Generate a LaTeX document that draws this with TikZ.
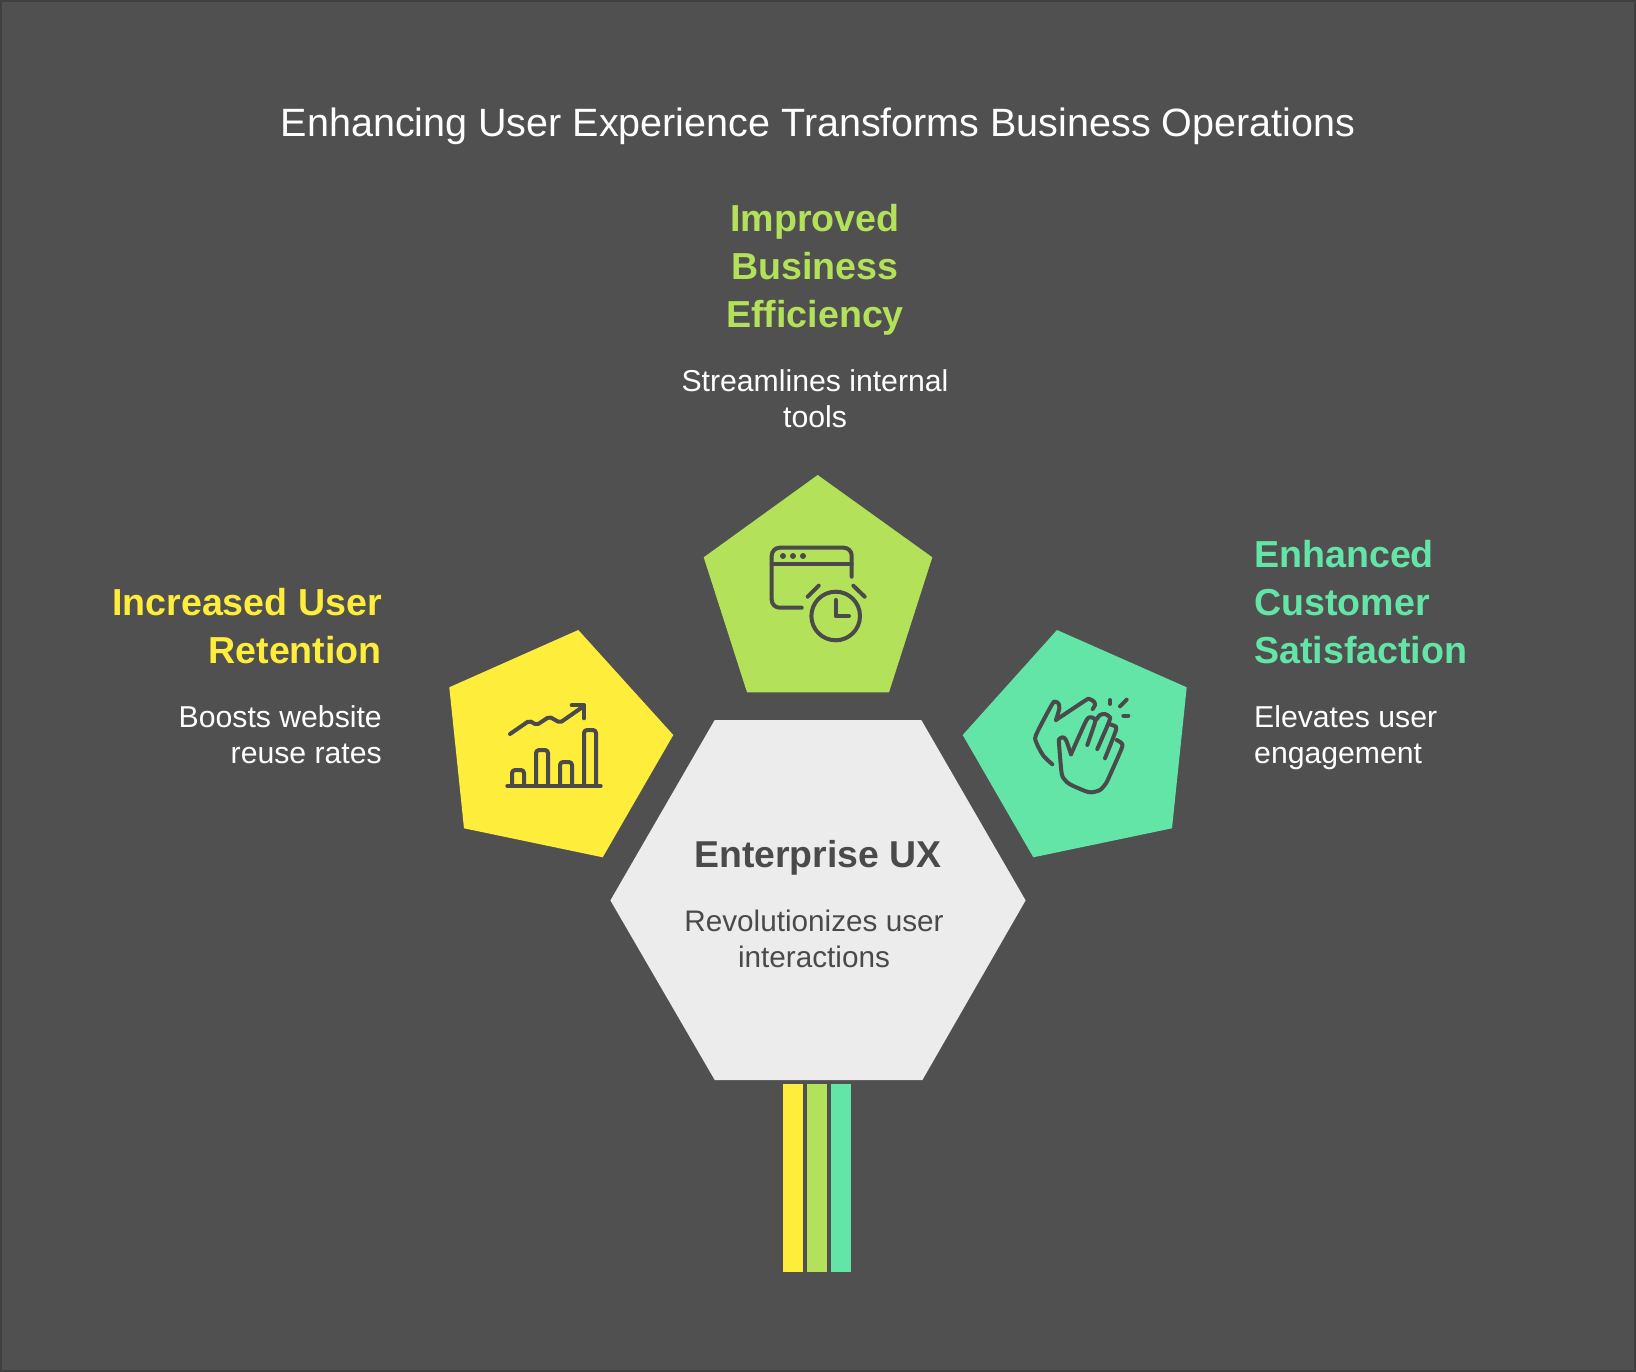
\documentclass[tikz,border=0pt]{standalone}
\usepackage{fontspec}
\setmainfont{Liberation Sans}
\definecolor{bgdark}{HTML}{505050}
\definecolor{hexgray}{HTML}{ECECEC}
\definecolor{ux}{HTML}{4A4A4A}
\definecolor{retain}{HTML}{FFED3B}
\definecolor{effic}{HTML}{B3E15A}
\definecolor{satis}{HTML}{64E5A8}
\tikzstyle{icon}=[ux,line width=4pt,line cap=round,line join=round]
\tikzstyle{handline}=[icon,smooth,tension=.45]
\tikzstyle{heading}=[font=\fontsize{37.6}{48}\selectfont\bfseries,inner sep=0pt]
\tikzstyle{descr}=[font=\fontsize{30.2}{36}\selectfont,inner sep=0pt,white]
\begin{document}
\begin{tikzpicture}[x=1pt,y=-1pt]
    \useasboundingbox (0,0) rectangle (1636,1372);
    \draw[fill=bgdark,draw=black!75,line width=2pt] (1,1) rectangle (1635,1371);
    \node[font=\fontsize{39.5}{46}\selectfont,white,inner sep=0pt] (title) at (818,126)
    {Enhancing User Experience Transforms Business Operations};
    \fill[retain] (578.3,630)--(449.3,687.3)--(464,828.3)--(602.7,857.3)--(673.3,735)--cycle;
    \fill[effic] (817.7,475)--(932.3,557.3)--(889,692.3)--(747,692.3)--(703.7,557.3)--cycle;
    \fill[satis] (1057,630)--(1186.7,687.3)--(1172,828.3)--(1033.3,857.3)--(962.7,735)--cycle;
    \fill[hexgray] (714.7,720)--(921.3,720)--(1025.6,900.4)--(922.4,1080)--(714.7,1080)--(610.4,900.4)--cycle;
    \fill[retain] (783,1084) rectangle (803,1272);
    \fill[effic] (807,1084) rectangle (827,1272);
    \fill[satis] (831,1084) rectangle (851,1272);
    \draw[icon] (507.3,786)--(600.7,786);
    \draw[icon,rounded corners=3pt] (512,786)--(512,770)--(524,770)--(524,786);
    \draw[icon,rounded corners=3pt] (536,786)--(536,750)--(548,750)--(548,786);
    \draw[icon,rounded corners=3pt] (560,786)--(560,762)--(572,762)--(572,786);
    \draw[icon,rounded corners=3pt] (584,786)--(584,730)--(596,730)--(596,786);
    \draw[icon,rounded corners=2pt] (510,734)--(529.3,720.7)--(536.7,725)--(549.3,716.7)--(560,722.7)--(584,706);
    \draw[icon] (571.7,705.3)--(584,705.3)--(584,718.3);
    \draw[icon,rounded corners=8pt] (801.7,607.7)--(771.7,607.7)--(771.7,547.7)--(851.7,547.7)--(851.7,576.7);
    \draw[icon] (771.7,563.7)--(851.7,563.7);
    \foreach \dotx in {783,793,803}
    \fill[ux] (\dotx,556) circle (3);
    \draw[icon] (835.7,616) circle (24.3);
    \draw[icon] (835.7,600)--(835.7,616)--(849,616);
    \draw[icon] (807.7,596.7)--(818.7,585.7);
    \draw[icon] (853.3,585.7)--(864.7,596.7);
    \begin{scope}[shift={(1020,685)},x=.3333pt,y=-.3333pt]
      \draw[handline] plot coordinates {(97,238) (70,212) (50,175) (48,150) (95,60) (105,50) (115,55) (118,70) (108,105)};
      \draw[handline] plot coordinates {(108,105) (195,47) (208,42) (222,50) (225,60) (218,72)};
      \draw[handline] plot coordinates {(153,208) (138,165) (128,157) (118,162) (117,175) (125,265) (135,285) (150,298) (195,318) (215,322) (240,315) (258,295) (270,270) (305,190) (305,175) (290,165)};
      \draw[handline] plot coordinates {(153,208) (196,112) (208,97) (222,100) (225,112) (202,180)};
      \draw[handline] plot coordinates {(228,105) (240,90) (255,87) (268,95) (268,108) (232,192)};
      \draw[handline] plot coordinates {(268,118) (282,122) (288,135) (255,220)};
      \draw[icon] (270,45)--(270,57);
      \draw[icon] (320,44)--(300,64);
      \draw[icon] (310,92)--(325,92);
    \end{scope}
    \node[heading,effic,align=center] (efficiency) at (815,270) {Improved\\Business\\Efficiency};
    \node[descr,align=center] (efficiencytext) at (815,399) {Streamlines internal\\tools};
    \node[heading,retain,align=right,anchor=east] (retention) at (382,626) {Increased User\\Retention};
    \node[descr,align=right,anchor=east] (retentiontext) at (382,735) {Boosts website\\reuse rates};
    \node[heading,satis,align=left,anchor=west] (satisfaction) at (1254,602) {Enhanced\\Customer\\Satisfaction};
    \node[descr,align=left,anchor=west] (satisfactiontext) at (1254,738) {Elevates user\\engagement};
    \node[font=\fontsize{37.4}{46}\selectfont\bfseries,ux,inner sep=0pt] (center) at (818,858) {Enterprise UX};
    \node[font=\fontsize{29.7}{36}\selectfont,ux,inner sep=0pt,align=center] (centertext) at (814,939) {Revolutionizes user\\interactions};
\end{tikzpicture}
\end{document}
